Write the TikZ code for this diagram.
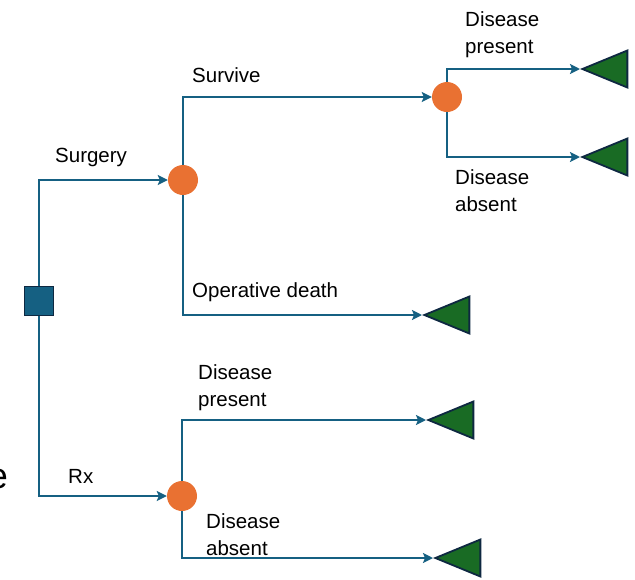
\documentclass[tikz,border=0pt]{standalone}
\usepackage{fontspec}
\setmainfont{Liberation Sans}
\usetikzlibrary{arrows.meta,shapes.geometric}
\definecolor{lineblue}{HTML}{156082}
\definecolor{darkedge}{HTML}{0E2841}
\definecolor{orangec}{HTML}{E97132}
\definecolor{greent}{HTML}{196B24}
\tikzset{
  decbox/.style={draw=darkedge,fill=lineblue,line width=1.8pt,minimum size=29pt,inner sep=0pt},
  chance/.style={circle,fill=orangec,minimum size=30pt,inner sep=0pt},
  term/.style={isosceles triangle,isosceles triangle stretches,shape border rotate=180,
    draw=darkedge,fill=greent,line width=1.8pt,minimum height=45pt,minimum width=37pt,inner sep=0pt},
  conn/.style={draw=lineblue,line width=2.5pt,-{Stealth[length=10pt,width=10pt,inset=2pt]}},
  lbl/.style={anchor=base west,inner sep=0pt,align=left,font=\fontsize{20.5}{27}\selectfont}
}
\begin{document}
\begin{tikzpicture}[x=1pt,y=-1pt]
\useasboundingbox (0,0) rectangle (635,579);
% decision node
\node[decbox] (dec) at (39,301) {};
% chance nodes
\node[chance] (c1) at (183,180) {};
\node[chance] (c2) at (447,97) {};
\node[chance] (c3) at (182,496) {};
% terminal nodes
\node[term,anchor=apex] (t1) at (580,69) {};
\node[term,anchor=apex] (t2) at (580,157) {};
\node[term,anchor=apex] (t3) at (422,315) {};
\node[term,anchor=apex] (t4) at (426,420) {};
\node[term,anchor=apex] (t5) at (433,558) {};
% connectors
\draw[conn] (dec.north) |- (c1.west);
\draw[conn] (dec.south) |- (c3.west);
\draw[conn] (c1.north) |- (c2.west);
\draw[conn] (c1.south) |- (t3.apex);
\draw[conn] (c2.north) |- (t1.apex);
\draw[conn] (c2.south) |- (t2.apex);
\draw[conn] (c3.north) |- (t4.apex);
\draw[conn] (c3.south) |- (t5.apex);
% labels
\node[lbl] (lsurg) at (55,162) {Surgery};
\node[lbl] (lrx) at (68,483) {Rx};
\node[lbl] (lsurv) at (192,82) {Survive};
\node[lbl] (lop) at (192,297) {Operative death};
\node[lbl] (ldp1) at (465,53) {Disease\\present};
\node[lbl] (lda1) at (455,211) {Disease\\absent};
\node[lbl] (ldp2) at (198,406) {Disease\\present};
\node[lbl] (lda2) at (206,555) {Disease\\absent};
% cut-off text at the left edge
\node[anchor=base east,inner sep=0pt,font=\fontsize{36}{44}\selectfont] (frag) at (8,488) {e};
\end{tikzpicture}
\end{document}
